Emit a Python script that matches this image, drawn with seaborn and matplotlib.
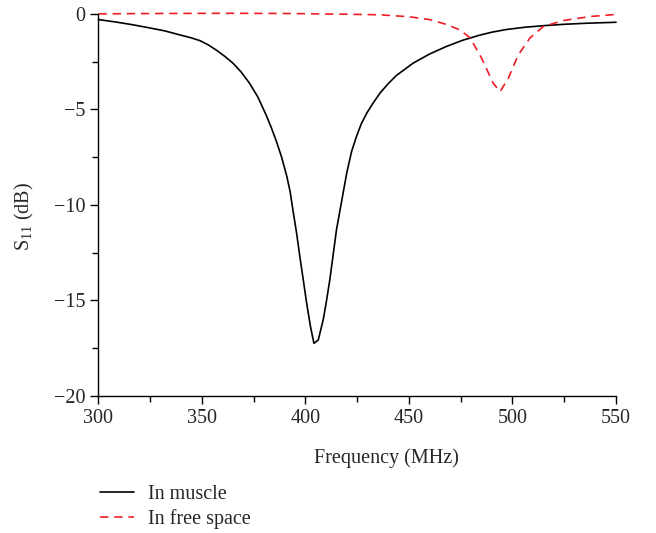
import numpy as np
import pandas as pd
import seaborn as sns
import matplotlib.pyplot as plt
from matplotlib.ticker import MultipleLocator

# S11 readings (MHz, dB)
muscle_freq = [300, 308, 316, 324, 332, 340, 345, 349, 353, 357, 361, 365, 369,
               373, 377, 381, 383.5, 386, 388.5, 391, 392.6, 394, 395.7, 397.3,
               399, 400.6, 402.5, 404.1, 406.2, 408.6, 410.2, 411.8, 413.4, 415,
               417.5, 420, 422.3, 424.7, 427, 429.6, 432.5, 436, 440, 444, 452,
               460, 468, 476, 484, 490, 497, 506, 516, 526, 536, 550]
muscle_s11 = [-0.30, -0.42, -0.56, -0.72, -0.89, -1.12, -1.26, -1.40, -1.62,
              -1.9, -2.22, -2.58, -3.05, -3.63, -4.35, -5.29, -5.95, -6.68, -7.5,
              -8.5, -9.3, -10.3, -11.45, -12.7, -13.95, -15.15, -16.4, -17.24,
              -17.07, -16.0, -15.0, -13.9, -12.6, -11.3, -9.8, -8.3, -7.2, -6.4,
              -5.75, -5.2, -4.7, -4.15, -3.65, -3.22, -2.58, -2.1, -1.71, -1.38,
              -1.12, -0.96, -0.82, -0.7, -0.61, -0.54, -0.49, -0.44]

free_freq = [300, 330, 360, 390, 420, 436, 450, 460, 468, 474.6, 479.5, 485,
             488, 490.7, 494, 498, 502.8, 508.4, 514.9, 524.5, 537.4, 550]
free_s11 = [0.0, 0.02, 0.03, 0.02, -0.02, -0.05, -0.15, -0.3, -0.55, -0.84,
            -1.25, -2.3, -3.0, -3.63, -4.07, -3.37, -2.15, -1.27, -0.66, -0.35,
            -0.14, -0.03]

sns.set_theme(style='ticks')
plt.rcParams['font.family'] = ['Liberation Serif', 'DejaVu Serif']
plt.rcParams['mathtext.fontset'] = 'custom'
plt.rcParams['mathtext.rm'] = 'Liberation Serif'
plt.rcParams['axes.unicode_minus'] = True
fs = 14.5

fig = plt.figure(figsize=(6.56, 5.33), dpi=100)
ax = fig.add_axes([0.150, 0.257, 0.789, 0.717])

df_m = pd.DataFrame({'f': muscle_freq, 's': muscle_s11})
df_f = pd.DataFrame({'f': free_freq, 's': free_s11})
sns.lineplot(data=df_m, x='f', y='s', ax=ax, color='black', lw=1.2,
             label='In muscle', clip_on=False)
sns.lineplot(data=df_f, x='f', y='s', ax=ax, color='#ee1c25', lw=1.2,
             label='In free space', clip_on=False, dashes=False)
ax.lines[1].set_dashes([5, 3.5])

ax.set_xlim(300, 550)
ax.set_ylim(-20, 0)
ax.xaxis.set_major_locator(MultipleLocator(50))
ax.xaxis.set_minor_locator(MultipleLocator(25))
ax.yaxis.set_major_locator(MultipleLocator(5))
ax.yaxis.set_minor_locator(MultipleLocator(2.5))
ax.tick_params(which='major', length=6, width=1, labelsize=fs, color='black')
ax.tick_params(which='minor', length=4, width=1, color='black')
sns.despine(ax=ax)
for s in ['left', 'bottom']:
    ax.spines[s].set_color('black')
    ax.spines[s].set_linewidth(1)

ax.set_xlabel('Frequency (MHz)', fontsize=fs)
ax.set_ylabel(r'$\mathrm{S}_{11}$ (dB)', fontsize=fs)
ax.xaxis.set_label_coords(0.556, -0.138)
ax.yaxis.set_label_coords(-0.12, 0.47)

ax.get_legend().remove()
h, l = ax.get_legend_handles_labels()
fig.legend(h, l, loc='upper left', bbox_to_anchor=(0.14, 0.105),
           frameon=False, fontsize=fs, handlelength=1.7, handletextpad=0.7,
           labelspacing=0.25, borderaxespad=0)

fig.savefig('out.png', dpi=100)
